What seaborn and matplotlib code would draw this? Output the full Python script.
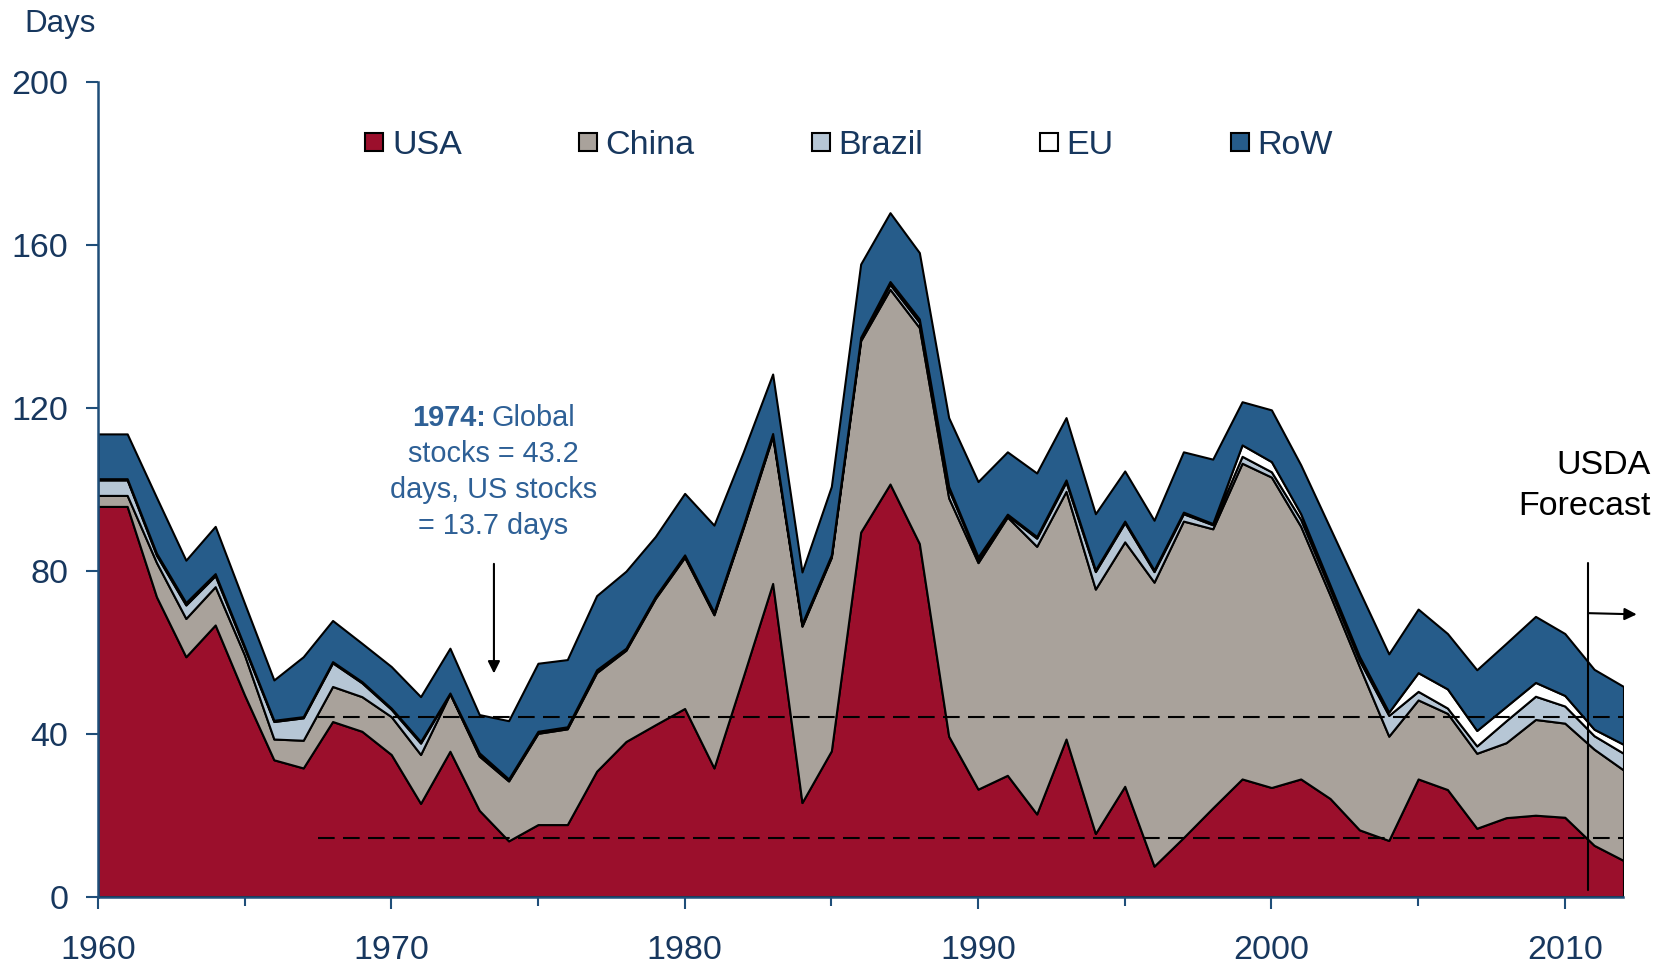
import matplotlib
matplotlib.use("Agg")
import matplotlib.pyplot as plt
from matplotlib.lines import Line2D
import pandas as pd
import seaborn as sns

# days of consumption held as stocks, by holder
YEARS = list(range(1960, 2013))
USA = [95.8, 95.8, 73.6, 58.9, 66.7, 49.5, 33.6, 31.6, 43.0, 40.6,
       34.9, 22.9, 35.7, 21.2, 13.7, 17.7, 17.7, 30.8, 38.1, 42.2,
       46.2, 31.6, 54.1, 76.9, 23.1, 35.8, 89.5, 101.3, 86.7, 39.4,
       26.4, 29.8, 20.3, 38.7, 15.5, 27.1, 7.5, 14.5, 21.8, 28.9,
       26.8, 28.9, 24.1, 16.4, 13.8, 28.9, 26.3, 16.8, 19.4, 20.0,
       19.5, 12.6, 8.9]
CHINA = [2.7, 2.7, 8.4, 9.4, 9.4, 9.8, 5.1, 6.8, 8.6, 8.5,
         9.3, 12.0, 14.1, 13.3, 14.7, 22.4, 23.5, 24.2, 22.4, 31.0,
         37.1, 37.6, 36.5, 36.1, 43.3, 47.5, 47.0, 47.8, 53.0, 58.5,
         55.6, 63.4, 65.7, 60.8, 60.0, 60.0, 69.7, 77.7, 68.5, 77.5,
         76.2, 62.0, 49.9, 40.1, 25.6, 19.4, 18.7, 18.4, 18.4, 23.5,
         23.1, 23.6, 22.2]
BRAZIL = [3.8, 3.8, 1.8, 3.3, 2.7, 1.7, 4.3, 5.5, 5.8, 3.4,
          1.8, 2.8, 0.1, 0.4, 0.3, 0.3, 0.3, 0.4, 0.3, 0.3,
          0.3, 0.3, 0.3, 0.4, 0.3, 0.3, 0.5, 1.2, 1.3, 2.1,
          0.9, 0.4, 2.0, 2.3, 4.3, 4.7, 2.6, 1.8, 1.0, 1.7,
          1.3, 1.7, 1.5, 1.5, 5.1, 2.1, 1.3, 1.8, 5.4, 5.7,
          4.2, 3.3, 4.1]
EU = [0.3, 0.3, 0.5, 0.6, 0.5, 0.4, 0.3, 0.3, 0.3, 0.3,
      0.3, 0.4, 0.1, 0.4, 0.2, 0.2, 0.2, 0.3, 0.2, 0.2,
      0.3, 0.3, 0.3, 0.3, 0.3, 0.3, 0.3, 0.7, 0.8, 0.7,
      0.5, 0.3, 0.4, 0.5, 0.4, 0.4, 0.4, 0.4, 0.3, 2.8,
      2.5, 1.4, 1.0, 1.0, 0.8, 4.6, 4.7, 3.8, 3.5, 3.4,
      2.6, 1.6, 2.2]
ROW = [11.0, 11.0, 13.7, 10.4, 11.6, 10.6, 9.9, 14.7, 10.1, 9.4,
       10.2, 11.0, 11.0, 9.4, 14.3, 16.7, 16.5, 18.2, 18.9, 14.7,
       15.1, 21.4, 18.0, 14.6, 12.7, 16.8, 18.0, 16.9, 16.3, 16.9,
       18.5, 15.3, 15.6, 15.3, 13.8, 12.3, 12.2, 14.8, 15.8, 10.6,
       12.7, 12.0, 14.0, 16.0, 14.3, 15.6, 13.6, 14.9, 15.5, 16.2,
       15.2, 14.7, 14.2]

SERIES = ["USA", "China", "Brazil", "EU", "RoW"]
COLORS = ["#9B0F2C", "#A9A29B", "#B6C6D5", "#FFFFFF", "#265C8A"]

GLOBAL_LINE = 44.2
US_LINE = 14.3
FORECAST_YEAR = 2010.8

NAVY = "#17375E"
AXIS_BLUE = "#1F4E79"
NOTE_BLUE = "#2E6096"

df = pd.DataFrame({"year": YEARS, "USA": USA, "China": CHINA,
                   "Brazil": BRAZIL, "EU": EU, "RoW": ROW})

sns.set_theme(style="white")
plt.rcParams["font.family"] = ["Liberation Sans", "DejaVu Sans"]

fig = plt.figure(figsize=(16.67, 9.65), dpi=100)
ax = fig.add_axes([0.0587, 0.0708, 0.9152, 0.8443])

ax.stackplot(df["year"], [df[s] for s in SERIES], colors=COLORS,
             edgecolor="black", linewidth=1.5)

# reference lines for 1974 levels
ax.hlines([GLOBAL_LINE, US_LINE], 1967.5, 2012, colors="black",
          linestyles=(0, (8, 4)), linewidth=1.5, zorder=3)

ax.set_xlim(1960, 2012)
ax.set_ylim(0, 200)
ax.set_xticks(range(1960, 2011, 10))
ax.set_xticks(range(1965, 2010, 10), minor=True)
ax.set_yticks(range(0, 201, 40))
ax.tick_params(axis="both", which="both", direction="out", width=1.5,
               color=AXIS_BLUE, labelcolor=NAVY, labelsize=24.5,
               bottom=True, left=True)
ax.tick_params(axis="both", which="major", length=8.4)
ax.tick_params(axis="x", which="minor", length=6.7)
ax.tick_params(axis="x", which="major", pad=19)
ax.tick_params(axis="y", pad=13)
sns.despine(ax=ax)
for side in ["left", "bottom"]:
    ax.spines[side].set_color(AXIS_BLUE)
    ax.spines[side].set_linewidth(1.8)
ax.grid(False)

fig.text(0.0147, 0.975, "Days", color=NAVY, fontsize=22.5, va="center", ha="left")

# legend
handles = [Line2D([], [], marker="s", linestyle="none", markersize=13,
                  markerfacecolor=c, markeredgecolor="black", markeredgewidth=1.5)
           for c in COLORS]
leg = fig.legend(handles, SERIES, loc="center", bbox_to_anchor=(0.509, 0.8496),
                 ncol=5, frameon=False, fontsize=24.5, handlelength=0.6,
                 handletextpad=0.22, columnspacing=3.4)
for t in leg.get_texts():
    t.set_color(NAVY)

# 1974 note
NOTE_SIZE = 20.8
fig.text(0.2915, 0.5668, "1974:", color=NOTE_BLUE, fontsize=NOTE_SIZE,
         fontweight="bold", ha="right", va="center")
fig.text(0.2951, 0.5668, "Global", color=NOTE_BLUE, fontsize=NOTE_SIZE,
         ha="left", va="center")
for yy, line in zip([0.5295, 0.4922, 0.4549],
                    ["stocks = 43.2", "days, US stocks", "= 13.7 days"]):
    fig.text(0.2958, yy, line, color=NOTE_BLUE, fontsize=NOTE_SIZE,
             ha="center", va="center")
ax.annotate("", xy=(1973.5, 54.8), xytext=(1973.5, 81.7),
            arrowprops=dict(arrowstyle="-|>", color="black", lw=1.5,
                            mutation_scale=18, shrinkA=0, shrinkB=0))

# forecast marker
ax.plot([FORECAST_YEAR, FORECAST_YEAR], [1.6, 82], color="black", lw=1.5,
        zorder=4, clip_on=False)
ax.annotate("", xy=(2012.45, 69.3), xytext=(FORECAST_YEAR, 69.6),
            arrowprops=dict(arrowstyle="-|>", color="black", lw=1.5,
                            mutation_scale=18, shrinkA=0, shrinkB=0),
            annotation_clip=False)
fig.text(0.99, 0.4964, "USDA\nForecast", color="black", fontsize=24.5,
         ha="right", va="center", linespacing=1.43, multialignment="right")

fig.savefig("out.png", dpi=100)
